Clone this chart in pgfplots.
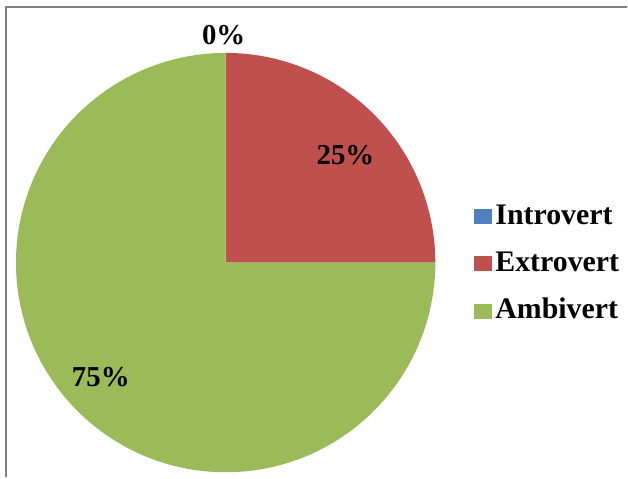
\documentclass[border=0pt]{standalone}
\usepackage{fontspec}
\setmainfont{Liberation Serif}
\usepackage{pgfplots}
\usepackage{pgfplotstable}
\pgfplotsset{compat=1.18}

\definecolor{intro}{HTML}{4F81BD}
\definecolor{extro}{HTML}{C0504D}
\definecolor{ambi}{HTML}{9BBB59}
\definecolor{frame}{HTML}{7F7F7F}

% share of each group, in percent
\pgfplotstableread{
label value
Introvert 0
Extrovert 25
Ambivert 75
}\piedata

\begin{document}
\begin{tikzpicture}
    % angles of the slices, clockwise from the top
    \pgfplotstablegetelem{0}{value}\of\piedata \let\valA\pgfplotsretval
    \pgfplotstablegetelem{1}{value}\of\piedata \let\valB\pgfplotsretval
    \pgfplotstablegetelem{2}{value}\of\piedata \let\valC\pgfplotsretval
    \pgfmathsetmacro{\angA}{90-3.6*\valA}
    \pgfmathsetmacro{\angB}{\angA-3.6*\valB}
    \pgfmathsetmacro{\angC}{\angB-3.6*\valC}
    \def\pieR{105bp}
    \begin{axis}[
            scale only axis,
            width=314bp,
            height=239bp,
            xmin=0, xmax=628,
            ymin=0, ymax=478,
            hide axis,
            clip=false,
            legend style={
                    at={(axis cs:474,214)},
                    anchor=west,
                    draw=none,
                    fill=none,
                    inner sep=0pt,
                    row sep=9.75bp,
                    font=\fontsize{15}{17}\selectfont\bfseries,
                    nodes={inner ysep=1bp, inner xsep=2bp, text height=10bp, text depth=2bp},
                },
            legend cell align=left,
            legend image code/.code={
                    \fill[#1] (0bp,-3.5bp) rectangle (8.5bp,3.5bp);
                },
        ]
        % keep the whole canvas in the bounding box
        \path (axis cs:0,0) rectangle (axis cs:628,478);
        % frame (left and top only)
        \draw[frame, line width=1bp] (axis cs:6,0) -- (axis cs:6,471) -- (axis cs:628,471);

        \fill[extro] (axis cs:226,215) -- ++(\angA:\pieR)
            arc[start angle=\angA, end angle=\angB, radius=\pieR] -- cycle;
        \fill[ambi] (axis cs:226,215) -- ++(\angB:\pieR)
            arc[start angle=\angB, end angle=\angC, radius=\pieR] -- cycle;

        \addlegendimage{intro}
        \addlegendentry{Introvert}
        \addlegendimage{extro}
        \addlegendentry{Extrovert}
        \addlegendimage{ambi}
        \addlegendentry{Ambivert}

        \begin{scope}[font=\fontsize{14.5}{16}\selectfont\bfseries]
            \node at (axis cs:224,443) {\valA\%};
            \node at (axis cs:346,323) {\valB\%};
            \node at (axis cs:101,100) {\valC\%};
        \end{scope}
    \end{axis}
\end{tikzpicture}
\end{document}
